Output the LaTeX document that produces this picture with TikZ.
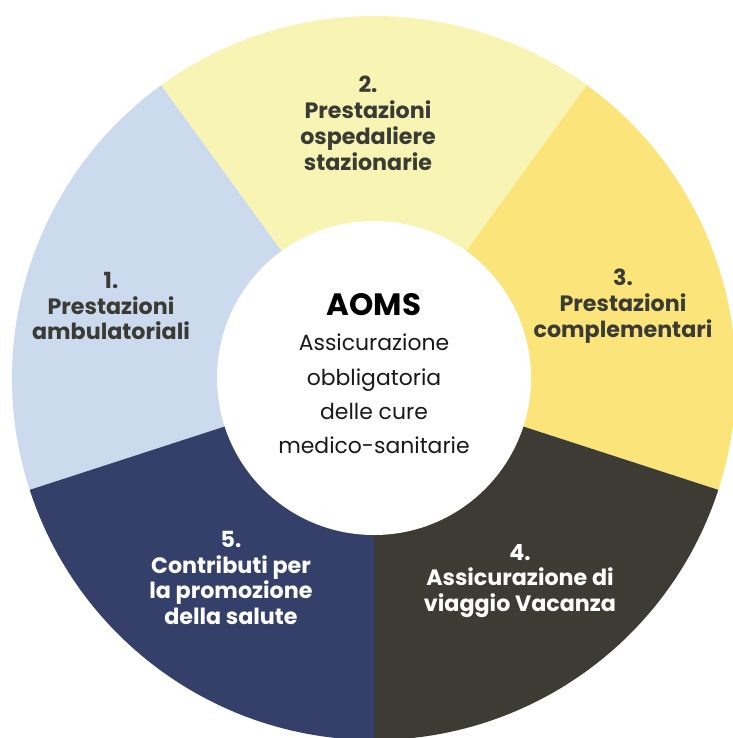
\documentclass[tikz,border=0pt]{standalone}
\usepackage{fontspec}
\setmainfont{Poppins}
\definecolor{paleblue}{HTML}{CCDAED}
\definecolor{paleyellow}{HTML}{F7F4B4}
\definecolor{sunyellow}{HTML}{FBE57B}
\definecolor{olivedark}{HTML}{3C3C34}
\definecolor{navyblue}{HTML}{344069}
\definecolor{darktext}{HTML}{3B3B35}

\begin{document}
\begin{tikzpicture}[
    x=1bp, y=1bp,
    lbl/.style={align=center, font=\bfseries\fontsize{22.3}{26}\selectfont, text=darktext},
    lblwhite/.style={lbl, text=white},
    hub/.style={circle, fill=white, minimum size=314bp, inner sep=0pt}
]

\useasboundingbox (-374,-360) rectangle (359,378);

\fill[paleblue]   (0,0) -- (126:362) arc[start angle=126, end angle=198, radius=362] -- cycle;
\fill[paleyellow] (0,0) -- (54:362)  arc[start angle=54,  end angle=126, radius=362] -- cycle;
\fill[sunyellow]  (0,0) -- (-18:362) arc[start angle=-18, end angle=54,  radius=362] -- cycle;
\fill[olivedark]  (0,0) -- (-90:362) arc[start angle=-90, end angle=-18, radius=362] -- cycle;
\fill[navyblue]   (0,0) -- (198:362) arc[start angle=198, end angle=270, radius=362] -- cycle;

\node[hub] (centre) at (0,0) {};
\node[font=\bfseries\fontsize{31}{34}\selectfont, text=black] (aoms) at (0,73) {AOMS};
\node[align=center, font=\fontsize{22}{34.5}\selectfont, text=black!90] (aomsdesc) at (0,-16)
    {Assicurazione\\obbligatoria\\delle cure\\medico-sanitarie};

\node[lbl]      (ambul)  at (-263,72)  {1.\\Prestazioni\\ambulatoriali};
\node[lbl]      (ospedal) at (-6,255)  {2.\\Prestazioni\\ospedaliere\\stazionarie};
\node[lbl]      (complem) at (249,72)  {3.\\Prestazioni\\complementari};
\node[lblwhite] (viaggio) at (146,-203) {4.\\Assicurazione di\\viaggio Vacanza};
\node[lblwhite] (salute)  at (-143,-200) {5.\\Contributi per\\la promozione\\della salute};

\end{tikzpicture}
\end{document}
